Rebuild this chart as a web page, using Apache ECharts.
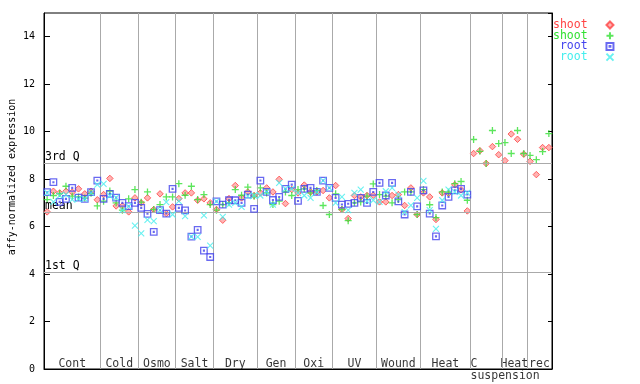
<!DOCTYPE html>
<html><head><meta charset="utf-8">
<script src="https://cdn.jsdelivr.net/npm/echarts@6/dist/echarts.min.js"></script>
<style>html,body{margin:0;padding:0;background:#fff}#c{width:640px;height:384px}</style>
</head><body><div id="c"></div>
<script>
const groups = ['Cont','Cold','Osmo','Salt','Dry','Gen','Oxi','UV','Wound','Heat','C suspension','Heat','rec'];
const groupSizes = [9,6,6,6,7,6,6,7,7,8,5,4,4];
const refNames = ['3rd Q','mean','1st Q'];
const refValues = [8.69,6.62,4.09];
const seriesNames = ['shoot','shoot ','root','root '];

const shootA = [6.62,7.49,7.42,7.49,7.45,7.59,7.38,7.49,7.13,
 7.35,8.03,6.87,6.87,6.62,7.21,
 7.00,7.21,6.72,7.38,6.55,6.83,
 7.18,7.42,7.42,7.11,7.17,7.00,
 6.72,6.27,7.18,7.73,7.21,7.46,7.31,
 7.42,7.63,7.46,7.99,6.97,7.56,
 7.42,7.75,7.46,7.46,7.52,7.21,
 7.73,6.72,6.34,7.31,7.25,7.31,7.32,
 7.04,7.04,7.31,7.35,6.89,7.63,6.51,
 7.42,7.25,6.30,7.42,7.40,7.76,7.55,6.66,
 9.08,9.20,8.66,9.37,9.03,
 8.78,9.90,9.68,9.05,
 8.75,8.19,9.33,9.33];
const shootB = [7.14,7.31,7.39,7.70,7.28,7.25,7.20,7.40,6.87,
 7.07,7.50,7.00,6.69,7.17,7.56,
 7.03,7.46,6.72,6.93,7.25,7.25,
 7.81,7.32,7.70,7.14,7.35,6.93,
 6.69,6.93,7.00,7.56,7.32,7.66,7.28,
 7.63,7.42,6.93,7.07,7.46,7.31,
 7.56,7.59,7.42,7.52,6.89,6.51,
 7.38,6.72,6.25,7.00,7.04,7.28,7.80,
 7.35,7.28,7.00,7.14,7.46,7.46,6.51,
 7.56,6.92,6.38,7.46,7.45,7.81,7.90,7.11,
 9.67,9.17,8.66,10.05,9.50,
 9.54,9.08,10.05,9.08,
 9.00,8.82,9.16,9.92];
const rootA = [7.45,7.87,7.04,7.17,7.63,7.22,7.17,7.45,7.94,
 7.17,7.38,7.22,7.00,6.86,7.00,
 6.79,6.54,5.78,6.69,6.55,7.59,
 6.79,6.68,5.58,5.86,4.99,4.72,
 7.06,6.93,7.11,7.11,7.00,7.35,6.75,
 7.94,7.46,7.12,7.25,7.59,7.77,
 7.08,7.59,7.63,7.46,7.94,7.63,
 7.21,6.93,6.96,7.00,7.21,7.00,7.46,
 7.84,7.31,7.84,7.06,6.51,7.46,6.85,
 7.53,6.55,5.59,6.89,7.25,7.53,7.59,7.35,
 null,null,null,null,null,
 null,null,null,null,
 null,null,null,null];
const rootB = [7.42,7.04,7.31,7.35,7.14,7.17,7.17,7.42,7.77,
 7.80,7.30,7.22,6.69,6.85,6.04,
 5.71,6.28,6.23,6.69,7.03,6.51,
 7.07,6.44,5.58,5.57,6.47,5.20,
 7.06,6.41,6.93,7.00,6.83,7.28,7.31,
 7.31,7.46,6.93,7.84,7.59,7.59,
 7.42,7.31,7.21,7.46,7.94,7.63,
 7.00,7.25,6.69,7.42,7.56,7.07,7.11,
 7.04,7.49,7.63,7.35,6.61,6.89,7.21,
 7.93,6.69,5.90,7.11,7.56,7.46,7.31,7.42,
 null,null,null,null,null,
 null,null,null,null,
 null,null,null,null];

const FONT = 'DejaVu Sans Mono';
const nSamples = groupSizes.reduce((a,b)=>a+b,0);
const bounds = [];
let acc = 0;
groupSizes.forEach(s => { acc += s; bounds.push(acc); });
const starts = bounds.map((b,i)=> b - groupSizes[i]);

const toPts = arr => arr.map((v,i)=> v==null ? null : [i+0.5, v]).filter(p=>p);

const colors = ['#ff4444','#33e033','#4444ee','#44eeee'];
const symbols = [
  'diamond',
  'path://M3.5,0V7M0,3.5H7',
  'path://M0,0H8V8H0Z M3.5,3.5H4.5V4.5H3.5Z',
  'path://M0,0L7,7M7,0L0,7'
];
const styles = [
  {color:'#ffa0a0', borderColor:colors[0], borderWidth:1},
  {color:'transparent', borderColor:colors[1], borderWidth:1.3},
  {color:'transparent', borderColor:colors[2], borderWidth:1.3},
  {color:'transparent', borderColor:colors[3], borderWidth:1.1}
];
const sizes = [6.5,7,6.5,6];
const allData = [shootA, shootB, rootA, rootB];

const markData = bounds.slice(0,-1).map(b => ({xAxis: b}));
refValues.forEach((v,i)=> markData.push({yAxis: v, label:{show:true, formatter: refNames[i]}}));

const labelData = groups.map((g,i)=>{
  if (g.indexOf(' ') >= 0) {
    return {value:[starts[i], 0], label:{formatter: g.replace(' ', '\n'), align:'left', offset:[0,1], lineHeight:12}};
  }
  return {value:[starts[i] + groupSizes[i]/2, 0], label:{formatter: g}};
});

const series = [{
  type:'scatter', name:'_labels', data: labelData, symbolSize: 1,
  itemStyle:{color:'transparent'}, silent:true, z:1,
  label:{show:true, position:'inside', offset:[0,-5], color:'#000', fontFamily:FONT, fontSize:11.5},
  markLine:{silent:true, symbol:['none','none'], animation:false,
    lineStyle:{color:'#aaaaaa', width:1, type:'solid'},
    label:{show:false, position:'insideStartTop', color:'#000', fontFamily:FONT, fontSize:11.5, distance:[1,0]},
    data: markData}
}];
seriesNames.forEach((n,k)=>{
  series.push({type:'scatter', name:n, data: toPts(allData[k]), symbol: symbols[k], symbolSize: sizes[k],
    itemStyle: styles[k], z: 3+k});
});

const chart = echarts.init(document.getElementById('c'), null, {renderer:'canvas'});
chart.setOption({
  animation:false,
  grid:{left:44, right:88, top:13, bottom:15, show:true, borderColor:'#000', borderWidth:1},
  xAxis:{type:'value', min:0, max:nSamples, axisLine:{show:true, lineStyle:{color:'#000'}},
    axisTick:{show:false}, axisLabel:{show:false}, splitLine:{show:false}},
  yAxis:[
    {type:'value', min:0, max:15, interval:2, position:'left',
     axisLine:{show:true, lineStyle:{color:'#000'}},
     axisTick:{show:true, inside:true, length:6, lineStyle:{color:'#000'}},
     axisLabel:{color:'#000', fontFamily:FONT, fontSize:10, margin:9, showMaxLabel:false},
     splitLine:{show:false}},
    {type:'value', min:0, max:15, interval:2, position:'right',
     axisLine:{show:true, lineStyle:{color:'#000'}},
     axisTick:{show:true, inside:true, length:4, lineStyle:{color:'#000'}},
     axisLabel:{show:false}, splitLine:{show:false}}
  ],
  legend:{orient:'vertical', left:548, top:14, align:'right', itemGap:-1.3, itemWidth:7, itemHeight:7,
    formatter: n => n.trim()==='shoot' ? 'shoot  ' : ' root  ',
    textStyle:{fontFamily:FONT, fontSize:11.5, lineHeight:10.7, padding:0},
    data: seriesNames.map((n,k)=>({name:n, textStyle:{color:colors[k]}}))},
  graphic:[{type:'text', x:12, y:177, rotation:Math.PI/2,
    style:{text:'affy-normalized expression', font:'10px "DejaVu Sans Mono"', fill:'#000', align:'center', verticalAlign:'middle'}}],
  series: series
});
</script></body></html>
